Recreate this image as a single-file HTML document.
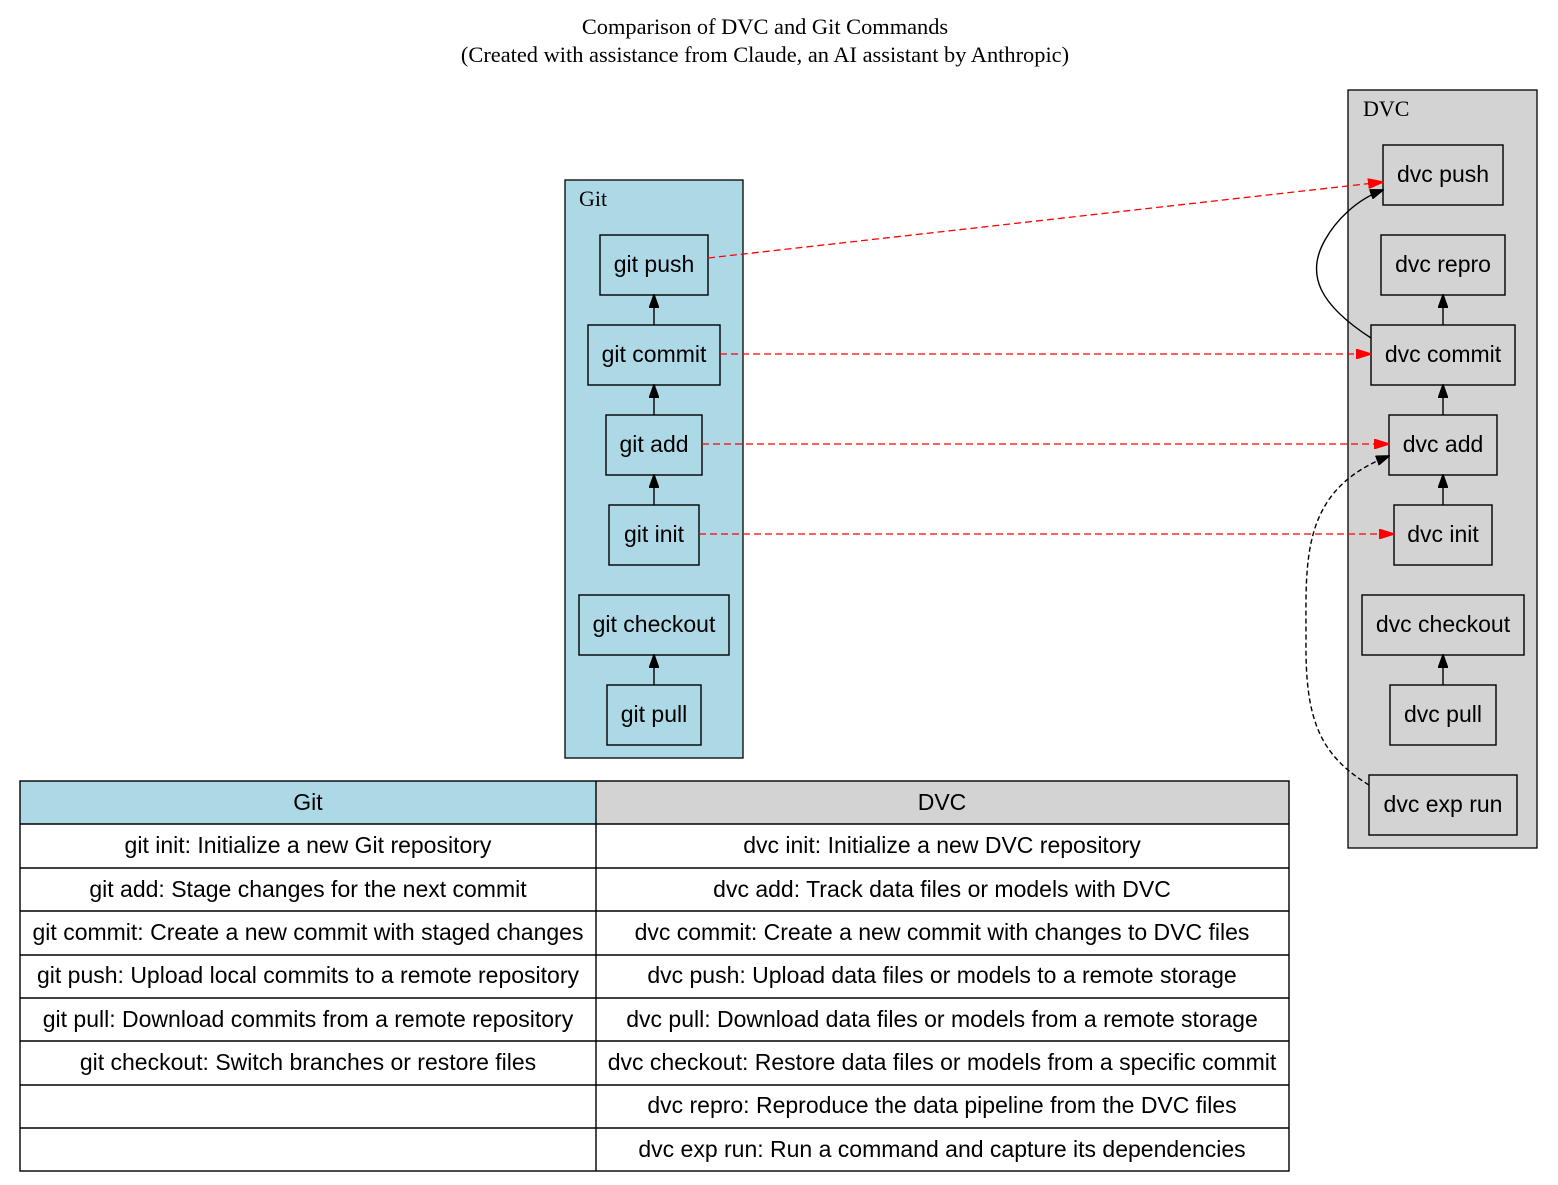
<!DOCTYPE html>
<html><head><meta charset="utf-8"><style>body{margin:0;background:#fff}svg{display:block}</style></head>
<body>
<svg width="1558" height="1185" viewBox="0 0 1558 1185" xmlns="http://www.w3.org/2000/svg">
<defs>
<marker id="ab" markerWidth="14" markerHeight="10" refX="13" refY="5" orient="auto" markerUnits="userSpaceOnUse"><path d="M0,0 L14,5 L0,10 z" fill="#000" stroke="#000"/></marker>
<marker id="ar" markerWidth="16" markerHeight="10" refX="15" refY="5" orient="auto" markerUnits="userSpaceOnUse"><path d="M0,0 L16,5 L0,10 z" fill="red" stroke="red"/></marker>
</defs>
<g font-family="Liberation Serif, serif" font-size="22.4" text-anchor="middle">
<text x="765" y="34">Comparison of DVC and Git Commands</text>
<text x="765" y="62">(Created with assistance from Claude, an AI assistant by Anthropic)</text>
</g>
<rect x="565" y="180" width="178" height="578" fill="#add8e6" stroke="#000" stroke-width="1.3"/>
<text x="579" y="206" font-family="Liberation Serif, serif" font-size="22">Git</text>
<rect x="1348" y="90" width="189" height="758" fill="#d3d3d3" stroke="#000" stroke-width="1.3"/>
<text x="1363" y="116" font-family="Liberation Serif, serif" font-size="22">DVC</text>
<g fill="none" stroke="#000" stroke-width="1.4">
<rect x="600" y="235" width="108" height="60"/>
<rect x="588" y="325" width="132" height="60"/>
<rect x="606" y="415" width="96" height="60"/>
<rect x="609" y="505" width="90" height="60"/>
<rect x="579" y="595" width="150" height="60"/>
<rect x="607" y="685" width="94" height="60"/>
<rect x="1383" y="145" width="120" height="60"/>
<rect x="1381" y="235" width="124" height="60"/>
<rect x="1371" y="325" width="144" height="60"/>
<rect x="1389" y="415" width="108" height="60"/>
<rect x="1394" y="505" width="98" height="60"/>
<rect x="1362" y="595" width="162" height="60"/>
<rect x="1390" y="685" width="106" height="60"/>
<rect x="1369" y="775" width="148" height="60"/>
<line x1="654" y1="325" x2="654" y2="295" marker-end="url(#ab)"/>
<line x1="654" y1="415" x2="654" y2="385" marker-end="url(#ab)"/>
<line x1="654" y1="505" x2="654" y2="475" marker-end="url(#ab)"/>
<line x1="654" y1="685" x2="654" y2="655" marker-end="url(#ab)"/>
<line x1="1443" y1="325" x2="1443" y2="295" marker-end="url(#ab)"/>
<line x1="1443" y1="415" x2="1443" y2="385" marker-end="url(#ab)"/>
<line x1="1443" y1="505" x2="1443" y2="475" marker-end="url(#ab)"/>
<line x1="1443" y1="685" x2="1443" y2="655" marker-end="url(#ab)"/>
<path d="M1371,338 C1320,305 1305,275 1325,240 C1335,222 1355,200 1383,190" marker-end="url(#ab)"/>
<path d="M1369,785 C1320,755 1305,720 1306,640 C1306,560 1300,490 1389,456" stroke-dasharray="5,3" marker-end="url(#ab)"/>
</g>
<g fill="none" stroke="red" stroke-width="1.3" stroke-dasharray="7,4">
<line x1="708" y1="258" x2="1383" y2="182" marker-end="url(#ar)"/>
<line x1="720" y1="354" x2="1371" y2="354" marker-end="url(#ar)"/>
<line x1="702" y1="444" x2="1389" y2="444" marker-end="url(#ar)"/>
<line x1="699" y1="534" x2="1394" y2="534" marker-end="url(#ar)"/>
</g>
<g font-family="Liberation Sans, sans-serif" font-size="23" text-anchor="middle">
<text x="654" y="272">git push</text>
<text x="654" y="362">git commit</text>
<text x="654" y="452">git add</text>
<text x="654" y="542">git init</text>
<text x="654" y="632">git checkout</text>
<text x="654" y="722">git pull</text>
<text x="1443" y="182">dvc push</text>
<text x="1443" y="272">dvc repro</text>
<text x="1443" y="362">dvc commit</text>
<text x="1443" y="452">dvc add</text>
<text x="1443" y="542">dvc init</text>
<text x="1443" y="632">dvc checkout</text>
<text x="1443" y="722">dvc pull</text>
<text x="1443" y="812">dvc exp run</text>
</g>
<rect x="20" y="781" width="576" height="43" fill="#add8e6"/>
<rect x="596" y="781" width="693" height="43" fill="#d3d3d3"/>
<g stroke="#000" stroke-width="1.4" fill="none">
<rect x="20" y="781" width="1269" height="390"/>
<line x1="596" y1="781" x2="596" y2="1171"/>
<line x1="20" y1="824" x2="1289" y2="824"/>
<line x1="20" y1="868" x2="1289" y2="868"/>
<line x1="20" y1="911" x2="1289" y2="911"/>
<line x1="20" y1="955" x2="1289" y2="955"/>
<line x1="20" y1="998" x2="1289" y2="998"/>
<line x1="20" y1="1041" x2="1289" y2="1041"/>
<line x1="20" y1="1085" x2="1289" y2="1085"/>
<line x1="20" y1="1128" x2="1289" y2="1128"/>
</g>
<g font-family="Liberation Sans, sans-serif" font-size="23" text-anchor="middle">
<text x="308" y="810">Git</text>
<text x="942" y="810">DVC</text>
<text x="308" y="853">git init: Initialize a new Git repository</text>
<text x="942" y="853">dvc init: Initialize a new DVC repository</text>
<text x="308" y="897">git add: Stage changes for the next commit</text>
<text x="942" y="897">dvc add: Track data files or models with DVC</text>
<text x="308" y="940">git commit: Create a new commit with staged changes</text>
<text x="942" y="940">dvc commit: Create a new commit with changes to DVC files</text>
<text x="308" y="983">git push: Upload local commits to a remote repository</text>
<text x="942" y="983">dvc push: Upload data files or models to a remote storage</text>
<text x="308" y="1027">git pull: Download commits from a remote repository</text>
<text x="942" y="1027">dvc pull: Download data files or models from a remote storage</text>
<text x="308" y="1070">git checkout: Switch branches or restore files</text>
<text x="942" y="1070">dvc checkout: Restore data files or models from a specific commit</text>
<text x="942" y="1113">dvc repro: Reproduce the data pipeline from the DVC files</text>
<text x="942" y="1157">dvc exp run: Run a command and capture its dependencies</text>
</g>
</svg>
</body></html>
